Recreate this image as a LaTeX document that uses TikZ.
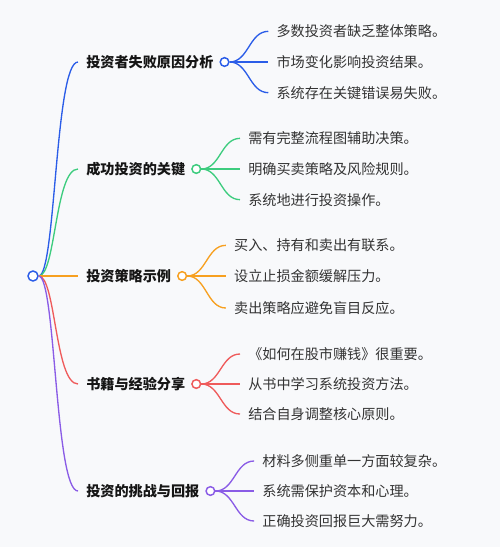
\documentclass[tikz,border=0pt]{standalone}
\usepackage{fontspec}
\newfontfamily\cjk{Noto Sans CJK SC}
\usepackage{xcolor}
\usepackage{tikz}
\usetikzlibrary{positioning,calc}

\definecolor{bgc}{HTML}{F8F9FB}
\definecolor{cblue}{HTML}{2B5DE8}
\definecolor{cgreen}{HTML}{3DCC7E}
\definecolor{corange}{HTML}{F7A020}
\definecolor{cred}{HTML}{EF5B5B}
\definecolor{cpurple}{HTML}{8A5CE6}
\definecolor{toptext}{HTML}{151515}
\definecolor{leaftext}{HTML}{333333}

\tikzset{
  topic/.style={anchor=west, font=\cjk\bfseries\fontsize{10.6pt}{12pt}\selectfont, text=toptext,
    inner xsep=6pt, inner ysep=0pt, text height=8.7pt, text depth=0.7pt},
  leaf/.style={font=\cjk\fontsize{10.6pt}{12pt}\selectfont, text=leaftext,
    inner xsep=6pt, inner ysep=0pt, text height=8.7pt, text depth=0.7pt},
  dot/.style={circle, draw, fill=white, line width=1.1pt, inner sep=0pt, minimum size=6.5pt},
  link/.style={line width=1pt},
}

\begin{document}
\begin{tikzpicture}[x=0.75pt, y=-0.75pt, node distance=29pt]
  \fill[bgc] (0,0) rectangle (500,547);
  \node[dot, draw=cblue, minimum size=7.5pt] (root) at (33,276) {};
  % main topics
  \node[topic] (t1) at (78,62) {投资者失败原因分析};
  \node[topic] (t2) at (78,169) {成功投资的关键};
  \node[topic] (t3) at (78,276) {投资策略示例};
  \node[topic] (t4) at (78,384) {书籍与经验分享};
  \node[topic] (t5) at (78,491) {投资的挑战与回报};
  % small circles
  \node[dot, draw=cblue, right=-1.7pt of t1] (c1) {};
  \node[dot, draw=cgreen, right=-1.7pt of t2] (c2) {};
  \node[dot, draw=corange, right=-1.7pt of t3] (c3) {};
  \node[dot, draw=cred, right=-1.7pt of t4] (c4) {};
  \node[dot, draw=cpurple, right=-1.7pt of t5] (c5) {};
  % leaves
  \node[leaf, right=of c1, yshift=23pt] (l11) {多数投资者缺乏整体策略。};
  \node[leaf, right=of c1] (l12) {市场变化影响投资结果。};
  \node[leaf, right=of c1, yshift=-23pt] (l13) {系统存在关键错误易失败。};
  \node[leaf, right=of c2, yshift=23pt] (l21) {需有完整流程图辅助决策。};
  \node[leaf, right=of c2] (l22) {明确买卖策略及风险规则。};
  \node[leaf, right=of c2, yshift=-23pt] (l23) {系统地进行投资操作。};
  \node[leaf, right=of c3, yshift=23pt] (l31) {买入、持有和卖出有联系。};
  \node[leaf, right=of c3] (l32) {设立止损金额缓解压力。};
  \node[leaf, right=of c3, yshift=-24pt] (l33) {卖出策略应避免盲目反应。};
  \node[leaf, right=of c4, yshift=22.5pt] (l41) {《如何在股市赚钱》很重要。};
  \node[leaf, right=of c4] (l42) {从书中学习系统投资方法。};
  \node[leaf, right=of c4, yshift=-22.5pt] (l43) {结合自身调整核心原则。};
  \node[leaf, right=of c5, yshift=22.5pt] (l51) {材料多侧重单一方面较复杂。};
  \node[leaf, right=of c5] (l52) {系统需保护资本和心理。};
  \node[leaf, right=of c5, yshift=-22.5pt] (l53) {正确投资回报巨大需努力。};
  % connectors
  \foreach \i/\col in {1/cblue,2/cgreen,3/corange,4/cred,5/cpurple} {
    \draw[link, draw=\col] (root.east) .. controls +(17,0) and +(-23,0) .. (t\i.west);
    \foreach \j in {1,2,3}
      \draw[link, draw=\col] (c\i.east) .. controls +(19,0) and +(-19,0) .. (l\i\j.west);
  }
\end{tikzpicture}
\end{document}
